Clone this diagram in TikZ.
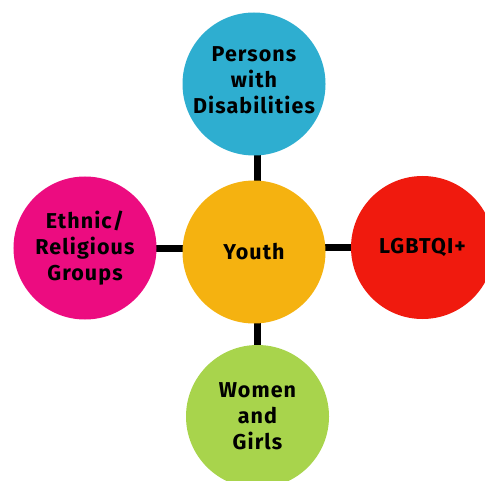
\documentclass[tikz,border=0pt]{standalone}
\usepackage{fontspec}
\usetikzlibrary{backgrounds}
\setmainfont{Fira Sans}[BoldFont={Fira Sans Bold}]
\newfontfamily\lblfont{Fira Sans Bold}[LetterSpace=5]
\definecolor{cblue}{RGB}{46,174,208}
\definecolor{cyellow}{RGB}{245,178,16}
\definecolor{cpink}{RGB}{236,12,128}
\definecolor{cred}{RGB}{240,26,14}
\definecolor{cgreen}{RGB}{168,212,76}
\tikzset{
  bubble/.style={circle, minimum size=143bp, inner sep=0pt, align=center,
    font=\lblfont\fontsize{21.5bp}{26bp}\selectfont, text=black},
  link/.style={line width=7bp, black}
}
\begin{document}
\begin{tikzpicture}[x=1bp,y=-1bp]
\useasboundingbox (0,0) rectangle (485,481);
\clip (0,0) rectangle (485,481);
\node[bubble, fill=cyellow] (youth) at (254,252) {Youth};
\node[bubble, fill=cblue] (pwd) at (254,84) {};
\node[align=center, font=\lblfont\fontsize{21.5bp}{26bp}\selectfont] (pwdt) at (254,80) {Persons\\with\\Disabilities};
\node[bubble, fill=cpink] (eth) at (85,248) {Ethnic/\\Religious\\Groups};
\node[bubble, fill=cred] (lgb) at (422.5,247.5) {LGBTQI+};
\node[bubble, fill=cgreen] (wom) at (257.5,416.5) {Women\\and\\Girls};
\begin{scope}[on background layer]
\draw[link] (pwd.center -| 257,0) -- (youth.center -| 257,0);
\draw[link] (eth.center |- 0,248) -- (youth.center |- 0,248);
\draw[link] (youth.center |- 0,247) -- (lgb.center |- 0,247);
\draw[link] (youth.center -| 257,0) -- (wom.center -| 257,0);
\end{scope}
\end{tikzpicture}
\end{document}
